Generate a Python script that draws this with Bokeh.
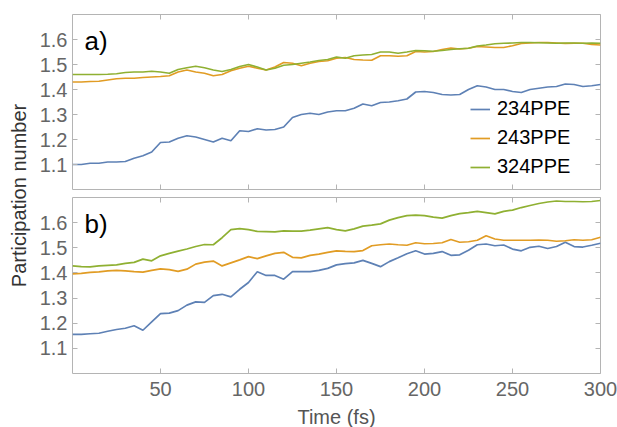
import math
from bokeh.plotting import figure
from bokeh.models import Range1d, LinearAxis, FixedTicker, Legend, LegendItem, Label
from bokeh.layouts import row, column
from bokeh.embed import file_html
from bokeh.resources import INLINE

# ---------------- data ----------------
time_fs = list(range(0, 301, 5))

series_names = ["234PPE", "243PPE", "324PPE"]
y_ticks = [1.1, 1.2, 1.3, 1.4, 1.5, 1.6]
x_ticks = [50, 100, 150, 200, 250, 300]

# panel a)
a_234 = [1.100, 1.100, 1.105, 1.105, 1.110, 1.110, 1.112, 1.125, 1.135, 1.150,
         1.188, 1.190, 1.205, 1.215, 1.210, 1.200, 1.190, 1.205, 1.195, 1.235,
         1.232, 1.243, 1.238, 1.240, 1.250, 1.288, 1.300, 1.305, 1.300, 1.310,
         1.315, 1.315, 1.325, 1.342, 1.335, 1.348, 1.350, 1.355, 1.362, 1.390,
         1.392, 1.388, 1.380, 1.378, 1.380, 1.400, 1.415, 1.410, 1.400, 1.400,
         1.392, 1.388, 1.400, 1.405, 1.410, 1.412, 1.422, 1.420, 1.412, 1.415,
         1.420]
a_243 = [1.430, 1.430, 1.432, 1.433, 1.438, 1.443, 1.445, 1.445, 1.448, 1.450,
         1.452, 1.455, 1.470, 1.478, 1.470, 1.465, 1.455, 1.460, 1.475, 1.485,
         1.493, 1.485, 1.478, 1.490, 1.508, 1.505, 1.495, 1.505, 1.512, 1.515,
         1.525, 1.528, 1.520, 1.518, 1.517, 1.535, 1.535, 1.533, 1.535, 1.552,
         1.550, 1.552, 1.560, 1.566, 1.562, 1.565, 1.572, 1.570, 1.568, 1.568,
         1.575, 1.584, 1.586, 1.588, 1.588, 1.586, 1.584, 1.585, 1.585, 1.580,
         1.578]
a_324 = [1.460, 1.460, 1.460, 1.460, 1.461, 1.463, 1.468, 1.470, 1.470, 1.473,
         1.470, 1.465, 1.480, 1.487, 1.493, 1.487, 1.478, 1.472, 1.480, 1.492,
         1.500, 1.490, 1.478, 1.485, 1.497, 1.500, 1.505, 1.510, 1.516, 1.520,
         1.530, 1.525, 1.535, 1.538, 1.540, 1.550, 1.550, 1.545, 1.550, 1.556,
         1.555, 1.553, 1.556, 1.560, 1.563, 1.565, 1.574, 1.578, 1.583, 1.585,
         1.586, 1.588, 1.588, 1.587, 1.586, 1.585, 1.586, 1.586, 1.585, 1.586,
         1.585]

# panel b)
b_234 = [1.156, 1.156, 1.158, 1.160, 1.168, 1.175, 1.180, 1.190, 1.172, 1.205,
         1.238, 1.240, 1.250, 1.272, 1.285, 1.283, 1.310, 1.315, 1.305, 1.335,
         1.362, 1.405, 1.390, 1.390, 1.375, 1.405, 1.405, 1.405, 1.410, 1.418,
         1.432, 1.437, 1.440, 1.450, 1.438, 1.425, 1.445, 1.460, 1.476, 1.488,
         1.475, 1.478, 1.485, 1.470, 1.472, 1.490, 1.512, 1.515, 1.508, 1.511,
         1.495, 1.488, 1.502, 1.506, 1.497, 1.505, 1.522, 1.505, 1.503, 1.510,
         1.518]
b_243 = [1.396, 1.398, 1.402, 1.404, 1.408, 1.410, 1.408, 1.405, 1.403, 1.410,
         1.416, 1.413, 1.406, 1.415, 1.435, 1.443, 1.447, 1.428, 1.440, 1.452,
         1.465, 1.457, 1.468, 1.478, 1.482, 1.462, 1.460, 1.470, 1.475, 1.482,
         1.488, 1.486, 1.485, 1.489, 1.508, 1.512, 1.515, 1.512, 1.510, 1.520,
         1.516, 1.517, 1.520, 1.533, 1.522, 1.524, 1.530, 1.548, 1.535, 1.530,
         1.530, 1.530, 1.530, 1.531, 1.530, 1.526, 1.528, 1.532, 1.530, 1.532,
         1.542]
b_324 = [1.428, 1.425, 1.424, 1.428, 1.430, 1.432, 1.438, 1.442, 1.455, 1.448,
         1.468, 1.478, 1.487, 1.495, 1.505, 1.513, 1.512, 1.540, 1.572, 1.576,
         1.572, 1.565, 1.564, 1.563, 1.567, 1.566, 1.566, 1.570, 1.575, 1.580,
         1.572, 1.567, 1.575, 1.586, 1.590, 1.595, 1.610, 1.620, 1.628, 1.630,
         1.628, 1.622, 1.618, 1.628, 1.636, 1.640, 1.645, 1.640, 1.635, 1.645,
         1.650, 1.660, 1.668, 1.676, 1.682, 1.686, 1.684, 1.684, 1.683, 1.684,
         1.688]

# ---------------- styling ----------------
COLORS = ["#5E81B5", "#E19C24", "#8FB032"]
FRAME = "#b4b4b4"
TICK_TEXT = "#666666"
FONT = "Liberation Sans"


def style_axis(ax, ticks, show_labels):
    ax.ticker = FixedTicker(ticks=ticks)
    ax.major_tick_in = 5
    ax.major_tick_out = 0
    ax.minor_tick_line_color = None
    ax.axis_line_color = None
    ax.major_tick_line_color = FRAME
    ax.major_tick_line_width = 1
    if show_labels:
        ax.major_label_text_font = FONT
        ax.major_label_text_font_size = "20px"
        ax.major_label_text_color = TICK_TEXT
        ax.major_label_standoff = 5
    else:
        ax.major_label_text_font_size = "0px"
        ax.major_label_text_alpha = 0
        ax.major_label_standoff = 0


def make_panel(ys, frame_h, top_b, bottom_b, show_x, tag):
    p = figure(frame_width=528, frame_height=frame_h,
               x_range=Range1d(0, 300), y_range=Range1d(1.0, 1.7),
               output_backend="svg", toolbar_location=None,
               min_border_left=34, min_border_right=18,
               min_border_top=top_b, min_border_bottom=bottom_b,
               background_fill_color="white", border_fill_color="white")
    p.grid.visible = False
    p.outline_line_color = FRAME
    p.outline_line_width = 1

    style_axis(p.xaxis[0], x_ticks, show_x)
    style_axis(p.yaxis[0], y_ticks, True)
    if show_x:
        p.xaxis[0].axis_label = "Time (fs)"
        p.xaxis[0].axis_label_text_font = FONT
        p.xaxis[0].axis_label_text_font_size = "20px"
        p.xaxis[0].axis_label_text_font_style = "normal"
        p.xaxis[0].axis_label_text_color = "#555555"
        p.xaxis[0].axis_label_standoff = 7
        p.xaxis[0].major_label_standoff = 8

    top = LinearAxis()
    style_axis(top, x_ticks, False)
    p.add_layout(top, "above")
    right = LinearAxis()
    style_axis(right, y_ticks, False)
    p.add_layout(right, "right")

    rends = []
    for y, c in zip(ys, COLORS):
        r = p.line(time_fs, y, line_color=c, line_width=1.7)
        rends.append(r)

    p.add_layout(Label(x=12, y=frame_h - 26, x_units="screen", y_units="screen",
                       text=tag, text_font=FONT, text_font_size="26px",
                       text_color="black", text_baseline="middle"))
    return p, rends


fa, rends_a = make_panel([a_234, a_243, a_324], 175, 14, 4, False, "a)")
fb, _ = make_panel([b_234, b_243, b_324], 176, 4, 53, True, "b)")

legend = Legend(items=[LegendItem(label=n, renderers=[r]) for n, r in zip(series_names, rends_a)],
                location=(398, 11), background_fill_alpha=0, border_line_color=None,
                padding=0, margin=0, spacing=6, glyph_width=20, glyph_height=20,
                label_height=20, label_standoff=7, label_text_font=FONT,
                label_text_font_size="20px", label_text_color="black")
fa.add_layout(legend)

lab = figure(frame_width=36, frame_height=426, x_range=Range1d(0, 1), y_range=Range1d(0, 1),
             output_backend="svg", toolbar_location=None, min_border=0,
             x_axis_location=None, y_axis_location=None)
lab.outline_line_color = None
lab.grid.visible = False
lab.add_layout(Label(x=18, y=426 - 195, x_units="screen", y_units="screen",
                     text="Participation number", angle=math.pi / 2,
                     text_align="center", text_baseline="middle",
                     text_font=FONT, text_font_size="20px", text_color="#333333"))

layout = row(lab, column(fa, fb))

with open("out.html", "w") as f:
    f.write(file_html(layout, INLINE))
